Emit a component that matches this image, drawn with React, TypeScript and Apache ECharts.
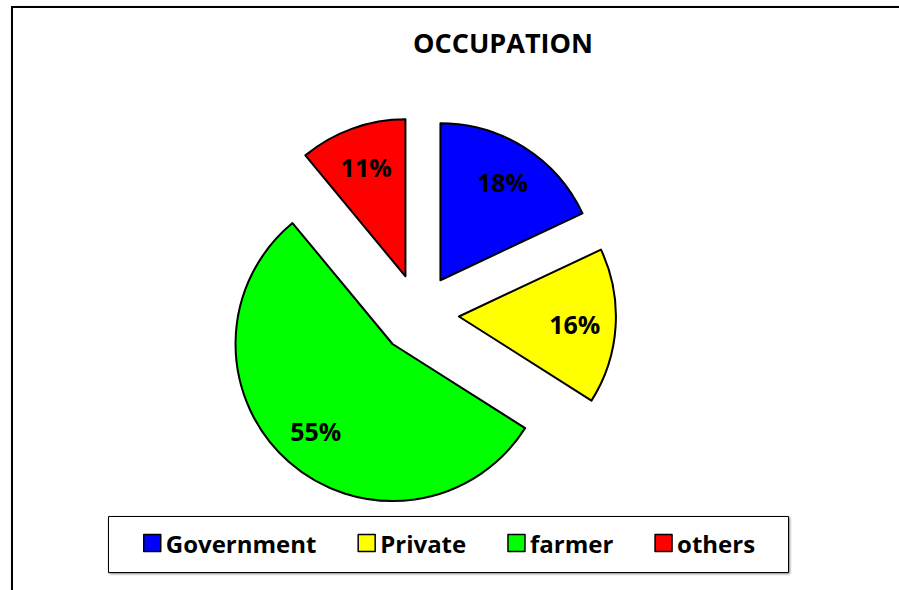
import React, { useEffect, useRef } from "react";
import * as echarts from "echarts";

const categories = ["Government", "Private", "farmer", "others"];
const values = [18, 16, 55, 11];
const colors = ["#0000FF", "#FFFF00", "#00FF00", "#FF0000"];
const titleText = "OCCUPATION";

const FONT = "'Open Sans', 'Noto Sans', sans-serif";

export default function App() {
  const ref = useRef<HTMLDivElement>(null);
  useEffect(() => {
    if (!ref.current) return;
    const chart = echarts.init(ref.current, null, { renderer: "svg" });
    const center = [419, 314];
    const shapeData = categories.map((name, i) => ({
      name,
      value: values[i],
      selected: true,
      itemStyle: { color: colors[i] },
    }));
    const labelData = categories.map((name, i) => ({
      name,
      value: values[i],
      selected: true,
    }));
    chart.setOption({
      animation: false,
      backgroundColor: "#ffffff",
      title: {
        text: titleText,
        left: 413,
        top: 29,
        padding: 0,
        textStyle: {
          fontFamily: FONT,
          fontSize: 27,
          fontWeight: "bold",
          color: "#000",
        },
      },
      legend: {
        left: 143,
        top: 531,
        padding: 0,
        itemWidth: 17,
        itemHeight: 17,
        itemGap: 41,
        selectedMode: false,
        icon: "rect",
        textStyle: {
          fontFamily: FONT,
          fontSize: 24,
          fontWeight: "bold",
          color: "#000",
        },
        data: categories.map((name, i) => ({
          name,
          icon: "rect",
          itemStyle: { color: colors[i], borderColor: "#000", borderWidth: 1.5 },
        })),
      },
      graphic: [
        {
          type: "rect",
          z: -10,
          shape: { x: 12, y: 7, width: 1000, height: 700 },
          style: {
            fill: "#fff",
            stroke: "#000",
            lineWidth: 2,
            shadowColor: "rgba(0,0,0,0.5)",
            shadowBlur: 2,
            shadowOffsetX: 1,
            shadowOffsetY: 1,
          },
        },
        {
          type: "rect",
          z: -5,
          shape: { x: 108.5, y: 516.5, width: 680, height: 56 },
          style: {
            fill: "#fff",
            stroke: "#000",
            lineWidth: 1,
            shadowColor: "rgba(0,0,0,0.5)",
            shadowBlur: 2,
            shadowOffsetX: 1,
            shadowOffsetY: 1,
          },
        },
      ],
      series: [
        {
          type: "pie",
          center,
          radius: [0, 157],
          startAngle: 90,
          clockwise: true,
          selectedMode: "multiple",
          selectedOffset: 40,
          silent: true,
          label: { show: false },
          labelLine: { show: false },
          itemStyle: { borderColor: "#000", borderWidth: 2 },
          data: shapeData,
        },
        {
          type: "pie",
          center,
          radius: [0, 226],
          startAngle: 90,
          clockwise: true,
          selectedMode: "multiple",
          selectedOffset: 40,
          silent: true,
          z: 5,
          itemStyle: { color: "rgba(0,0,0,0)", borderWidth: 0 },
          label: {
            show: true,
            position: "inside",
            formatter: "{d}%",
            fontFamily: FONT,
            fontSize: 25,
            fontWeight: "bold",
            color: "#000",
          },
          labelLine: { show: false },
          data: labelData,
        },
      ],
    });
    return () => chart.dispose();
  }, []);
  return (
    <div
      ref={ref}
      style={{ position: "fixed", left: 0, top: 0, width: 899, height: 590 }}
    />
  );
}
